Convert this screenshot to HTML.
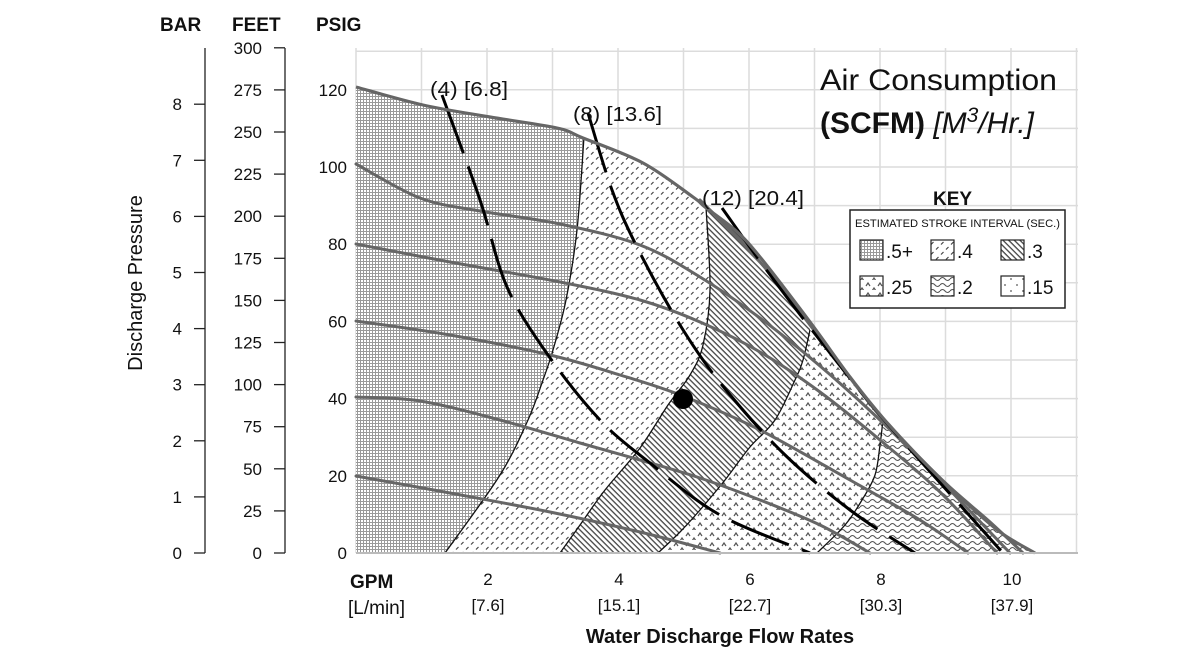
<!DOCTYPE html>
<html><head><meta charset="utf-8"><style>
html,body{margin:0;padding:0;background:#fff;}
svg{display:block;font-family:"Liberation Sans",Arial,sans-serif;}
</style></head><body>
<svg id="s" width="1200" height="660" viewBox="0 0 1200 660" xmlns="http://www.w3.org/2000/svg">
<defs>
<pattern id="p5" width="3" height="3" patternUnits="userSpaceOnUse"><rect width="3" height="3" fill="#fff"/><rect width="3" height="1" fill="#999"/><rect width="1" height="3" fill="#999"/></pattern>
<pattern id="p4" width="10" height="10" patternUnits="userSpaceOnUse"><rect width="10" height="10" fill="#fff"/><path d="M1 4.5 L3.5 2 M6 9.5 L8.5 7" stroke="#444" stroke-width="1.2"/></pattern>
<pattern id="p3" width="4" height="4" patternUnits="userSpaceOnUse" patternTransform="rotate(45)"><rect width="4" height="4" fill="#fff"/><rect width="4" height="1.3" fill="#444"/></pattern>
<pattern id="p25" width="12" height="10" patternUnits="userSpaceOnUse"><rect width="12" height="10" fill="#fff"/><path d="M2 6 L4 3 L6 6 M8 11 L10 8 L12 11" stroke="#555" stroke-width="1.2" fill="none"/></pattern>
<pattern id="p2" width="10" height="6" patternUnits="userSpaceOnUse"><rect width="10" height="6" fill="#fff"/><path d="M0 3 Q2.5 0 5 3 T10 3" stroke="#555" stroke-width="1.1" fill="none"/></pattern>
<pattern id="p15" width="12" height="12" patternUnits="userSpaceOnUse"><rect width="12" height="12" fill="#fff"/><circle cx="3" cy="3" r="0.9" fill="#555"/><circle cx="9" cy="9" r="0.9" fill="#555"/></pattern>
<clipPath id="env"><path id="envclip"/></clipPath>
</defs>
<g id="grid" stroke="#dcdcdc" stroke-width="1.5"></g>
<g clip-path="url(#env)">
<path id="z1" fill="url(#p5)"/>
<path id="z2" fill="url(#p4)"/>
<path id="z3" fill="url(#p3)"/>
<path id="z4" fill="url(#p25)"/>
<path id="z5" fill="url(#p2)"/>
</g>
<g id="bounds" fill="none" stroke="#111" stroke-width="1.3"></g>
<g id="grays" fill="none" stroke="#666" stroke-width="3" stroke-linecap="round"></g>
<g id="dash" fill="none" stroke="#000" stroke-width="3" stroke-dasharray="62 14"></g>
<path id="envline" fill="none" stroke="#666" stroke-width="3.2"/>
<line x1="356" y1="553" x2="1078" y2="553" stroke="#bbb" stroke-width="2"/>
<circle cx="683" cy="399" r="10" fill="#000"/>
<g id="axes" stroke="#222" stroke-width="1.3"></g>
<g id="labels" font-size="17" fill="#111"></g>
<g font-weight="bold" font-size="19" fill="#111">
<text x="160" y="31">BAR</text><text x="232" y="31">FEET</text><text x="316" y="31">PSIG</text>
</g>
<text transform="translate(142,283) rotate(-90)" text-anchor="middle" font-size="20" fill="#111">Discharge Pressure</text>
<text x="350" y="588" font-size="19" font-weight="bold" fill="#111">GPM</text>
<text x="348" y="614" font-size="19" fill="#111">[L/min]</text>
<text x="720" y="643" text-anchor="middle" font-size="20" font-weight="bold" fill="#111">Water Discharge Flow Rates</text>
<text x="820" y="90" font-size="30" fill="#111" textLength="237" lengthAdjust="spacingAndGlyphs">Air Consumption</text>
<text x="820" y="133" font-size="30" fill="#111"><tspan font-weight="bold">(SCFM)</tspan> <tspan font-style="italic">[M<tspan font-size="21" dy="-11">3</tspan><tspan dy="11">/Hr.]</tspan></tspan></text>
<g font-size="20" fill="#111">
<text x="430" y="96" textLength="78" lengthAdjust="spacingAndGlyphs">(4) [6.8]</text>
<text x="573" y="121" textLength="89" lengthAdjust="spacingAndGlyphs">(8) [13.6]</text>
<text x="702" y="205" textLength="102" lengthAdjust="spacingAndGlyphs">(12) [20.4]</text>
</g>
<text x="933" y="205" font-size="19" font-weight="bold" fill="#111">KEY</text>
<rect x="850" y="210" width="215" height="98" fill="#fff" stroke="#222" stroke-width="1.5"/>
<text x="855" y="227" font-size="11" fill="#111" textLength="205" lengthAdjust="spacingAndGlyphs">ESTIMATED STROKE INTERVAL (SEC.)</text>
<g stroke="#222" stroke-width="1.2">
<rect x="860" y="240" width="23" height="20" fill="url(#p5)"/>
<rect x="931" y="240" width="23" height="20" fill="url(#p4)"/>
<rect x="1001" y="240" width="23" height="20" fill="url(#p3)"/>
<rect x="860" y="276" width="23" height="20" fill="url(#p25)"/>
<rect x="931" y="276" width="23" height="20" fill="url(#p2)"/>
<rect x="1001" y="276" width="23" height="20" fill="url(#p15)"/>
</g>
<g font-size="19" fill="#111">
<text x="886" y="258">.5+</text><text x="957" y="258">.4</text><text x="1027" y="258">.3</text>
<text x="886" y="294">.25</text><text x="957" y="294">.2</text><text x="1027" y="294">.15</text>
</g>
</svg>
<script>
function sm(p){var d="M"+p[0][0]+" "+p[0][1];for(var i=0;i<p.length-1;i++){var a=p[i-1]||p[i],b=p[i],c=p[i+1],e=p[i+2]||c;
d+=" C"+(b[0]+(c[0]-a[0])/6).toFixed(1)+" "+(b[1]+(c[1]-a[1])/6).toFixed(1)+" "+(c[0]-(e[0]-b[0])/6).toFixed(1)+" "+(c[1]-(e[1]-b[1])/6).toFixed(1)+" "+c[0]+" "+c[1];}return d;}
function rv(p){return p.slice().reverse();}
function el(tag,attrs,par){var n=document.createElementNS("http://www.w3.org/2000/svg",tag);for(var k in attrs)n.setAttribute(k,attrs[k]);document.getElementById(par).appendChild(n);return n;}
var env=[[356,87],[423,105],[490,117],[557,128],[583,138],[643,163],[693,197],[705,207],[735,230],[760,257],[810,322],[850,377],[883,418],[920,458],[960,497],[1000,532],[1035,553]];
document.getElementById("envline").setAttribute("d",sm(env));
document.getElementById("envclip").setAttribute("d",sm(env)+" L356 553 Z");
var B1=[[588,40],[584,137],[577,230],[566,300],[553,350],[543,380],[528,420],[500,475],[445,553]];
var B2=[[708,40],[706,207],[710,290],[703,345],[690,375],[668,405],[640,448],[605,490],[580,525],[560,553]];
var B3=[[815,40],[810,330],[803,360],[795,380],[775,420],[750,447],[725,480],[700,510],[680,532],[658,553]];
var B4=[[890,40],[883,420],[880,445],[875,475],[862,500],[845,525],[817,553]];
function seg(p){return sm(p).replace(/^M/," L");}
document.getElementById("z1").setAttribute("d","M340 40"+seg(B1)+" L340 553 Z");
document.getElementById("z2").setAttribute("d",sm(B1)+seg(rv(B2))+" Z");
document.getElementById("z3").setAttribute("d",sm(B2)+seg(rv(B3))+" Z");
document.getElementById("z4").setAttribute("d",sm(B3)+seg(rv(B4))+" Z");
document.getElementById("z5").setAttribute("d",sm(B4)+" L1100 553 L1100 40 Z");
[B1,B2,B3,B4].forEach(function(b){el("path",{d:sm(b.slice(1))},"bounds");});
var G=[
[[356,476],[450,493],[550,512],[640,532],[720,553]],
[[356,397],[420,401],[500,420],[580,443],[640,460],[700,478],[760,500],[820,525],[870,553]],
[[356,321],[450,335],[550,355],[620,375],[683,396],[760,430],[850,480],[920,520],[968,553]],
[[356,244],[450,262],[560,282],[640,300],[700,322],[760,352],[820,392],[880,440],[940,492],[997,553]],
[[356,164],[420,198],[480,211],[560,224],[640,245],[700,277],[760,318],[820,366],[880,420],[940,480],[1010,553]],
[[700,200],[760,262],[820,338],[880,416],[940,478],[990,522],[1023,553]]];
G.forEach(function(g){el("path",{d:sm(g)},"grays");});
var D=[
[[442,95],[480,200],[507,287],[548,355],[600,420],[650,463],[720,515],[810,553]],
[[588,113],[612,190],[637,247],[680,325],[722,385],[783,453],[850,510],[915,553]],
[[722,208],[765,268],[812,330],[880,415],[960,505],[1003,553]]];
D.forEach(function(g){el("path",{d:sm(g)},"dash");});
var i;
for(i=0;i<=11;i++){var x=356+65.5*i;el("line",{x1:x,y1:48,x2:x,y2:553},"grid");}
for(i=0;i<=13;i++){var y=553-38.6*i;if(y<47)y=48;el("line",{x1:356,y1:y,x2:1078,y2:y},"grid");}
el("line",{x1:205,y1:48,x2:205,y2:553},"axes");
el("line",{x1:285,y1:48,x2:285,y2:553},"axes");
for(i=0;i<=8;i++){var y=553-56.1*i;el("line",{x1:194,y1:y,x2:205,y2:y},"axes");var t=el("text",{x:182,y:y+6,"text-anchor":"end"},"labels");t.textContent=i;}
for(i=0;i<=12;i++){var y=553-42.1*i;el("line",{x1:274,y1:y,x2:285,y2:y},"axes");var t=el("text",{x:262,y:y+6,"text-anchor":"end"},"labels");t.textContent=25*i;}
for(i=0;i<=6;i++){var y=553-77.2*i;var t=el("text",{x:347,y:y+6,"text-anchor":"end"},"labels");t.textContent=20*i;}
var L=["[7.6]","[15.1]","[22.7]","[30.3]","[37.9]"];
for(i=1;i<=5;i++){var x=357+131*i;var t=el("text",{x:x,y:585,"text-anchor":"middle"},"labels");t.textContent=2*i;var u=el("text",{x:x,y:611,"text-anchor":"middle"},"labels");u.textContent=L[i-1];}
</script>
</body></html>
